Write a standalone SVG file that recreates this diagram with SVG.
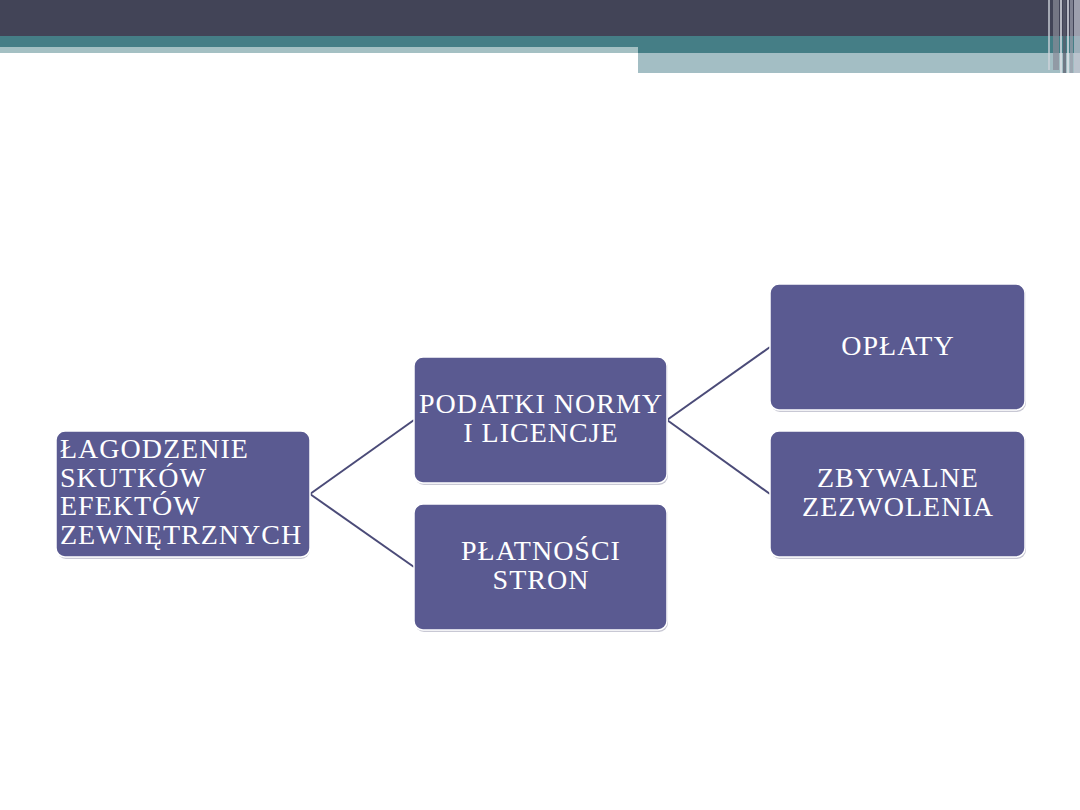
<svg xmlns="http://www.w3.org/2000/svg" width="1080" height="810" viewBox="0 0 1080 810">
<style>
.node{fill:#5A5A91;stroke:#ffffff;stroke-width:1.5}
.shadow{fill:#c8c8d4}
.t{font-family:"Liberation Serif","Times New Roman",serif;font-size:28px;letter-spacing:1px;fill:#ffffff}
.c{text-anchor:middle}
.conn{stroke:#4b4b78;stroke-width:2;fill:none}
</style>
<rect width="1080" height="810" fill="#ffffff"/>
<g id="header">
<rect x="0" y="0" width="1080" height="36" fill="#424457"/>
<rect x="0" y="36" width="1080" height="17" fill="#457E86"/>
<rect x="0" y="47" width="638" height="6" fill="#A4C0C3"/>
<rect x="638" y="53" width="410" height="20" fill="#A3BEC4"/>
<rect x="1048" y="53" width="32" height="20" fill="#A3BEC4"/>
<g opacity="0.7">
<rect x="1048" y="0" width="2" height="70" fill="#d0d4dc"/>
<rect x="1053" y="0" width="6" height="70" fill="#8a8c98"/>
<rect x="1060" y="0" width="2" height="73" fill="#e6e8ee"/>
<rect x="1063" y="0" width="3" height="73" fill="#5a5c6c"/>
<rect x="1067" y="0" width="2" height="73" fill="#e8eaf0"/>
<rect x="1070" y="0" width="3" height="73" fill="#9a9caa"/>
<rect x="1074" y="0" width="6" height="73" fill="#c4c6d2"/>
</g>
</g>
<g id="connectors">
<line class="conn" x1="310" y1="494" x2="414" y2="420"/>
<line class="conn" x1="310" y1="494" x2="414" y2="567"/>
<line class="conn" x1="667" y1="420" x2="770" y2="347"/>
<line class="conn" x1="667" y1="420" x2="770" y2="494"/>
</g>
<g id="node-lagodzenie">
<rect class="shadow" x="57" y="433" width="253" height="126" rx="9"/>
<rect class="node" x="56" y="431" width="254" height="126" rx="9"/>
<text class="t" x="60" y="458">ŁAGODZENIE</text>
<text class="t" x="60" y="487">SKUTKÓW</text>
<text class="t" x="60" y="515">EFEKTÓW</text>
<text class="t" x="60" y="544">ZEWNĘTRZNYCH</text>
</g>
<g id="node-podatki">
<rect class="shadow" x="415" y="359" width="253" height="126" rx="9"/>
<rect class="node" x="414" y="357" width="253" height="126" rx="9"/>
<text class="t c" x="541" y="413">PODATKI NORMY</text>
<text class="t c" x="541" y="442">I LICENCJE</text>
</g>
<g id="node-platnosci">
<rect class="shadow" x="415" y="506" width="253" height="126" rx="9"/>
<rect class="node" x="414" y="504" width="253" height="126" rx="9"/>
<text class="t c" x="541" y="560">PŁATNOŚCI</text>
<text class="t c" x="541" y="589">STRON</text>
</g>
<g id="node-oplaty">
<rect class="shadow" x="771" y="286" width="255" height="126" rx="9"/>
<rect class="node" x="770" y="284" width="255" height="126" rx="9"/>
<text class="t c" x="898" y="355">OPŁATY</text>
</g>
<g id="node-zbywalne">
<rect class="shadow" x="771" y="433" width="255" height="126" rx="9"/>
<rect class="node" x="770" y="431" width="255" height="126" rx="9"/>
<text class="t c" x="898" y="487">ZBYWALNE</text>
<text class="t c" x="898" y="516">ZEZWOLENIA</text>
</g>
</svg>
